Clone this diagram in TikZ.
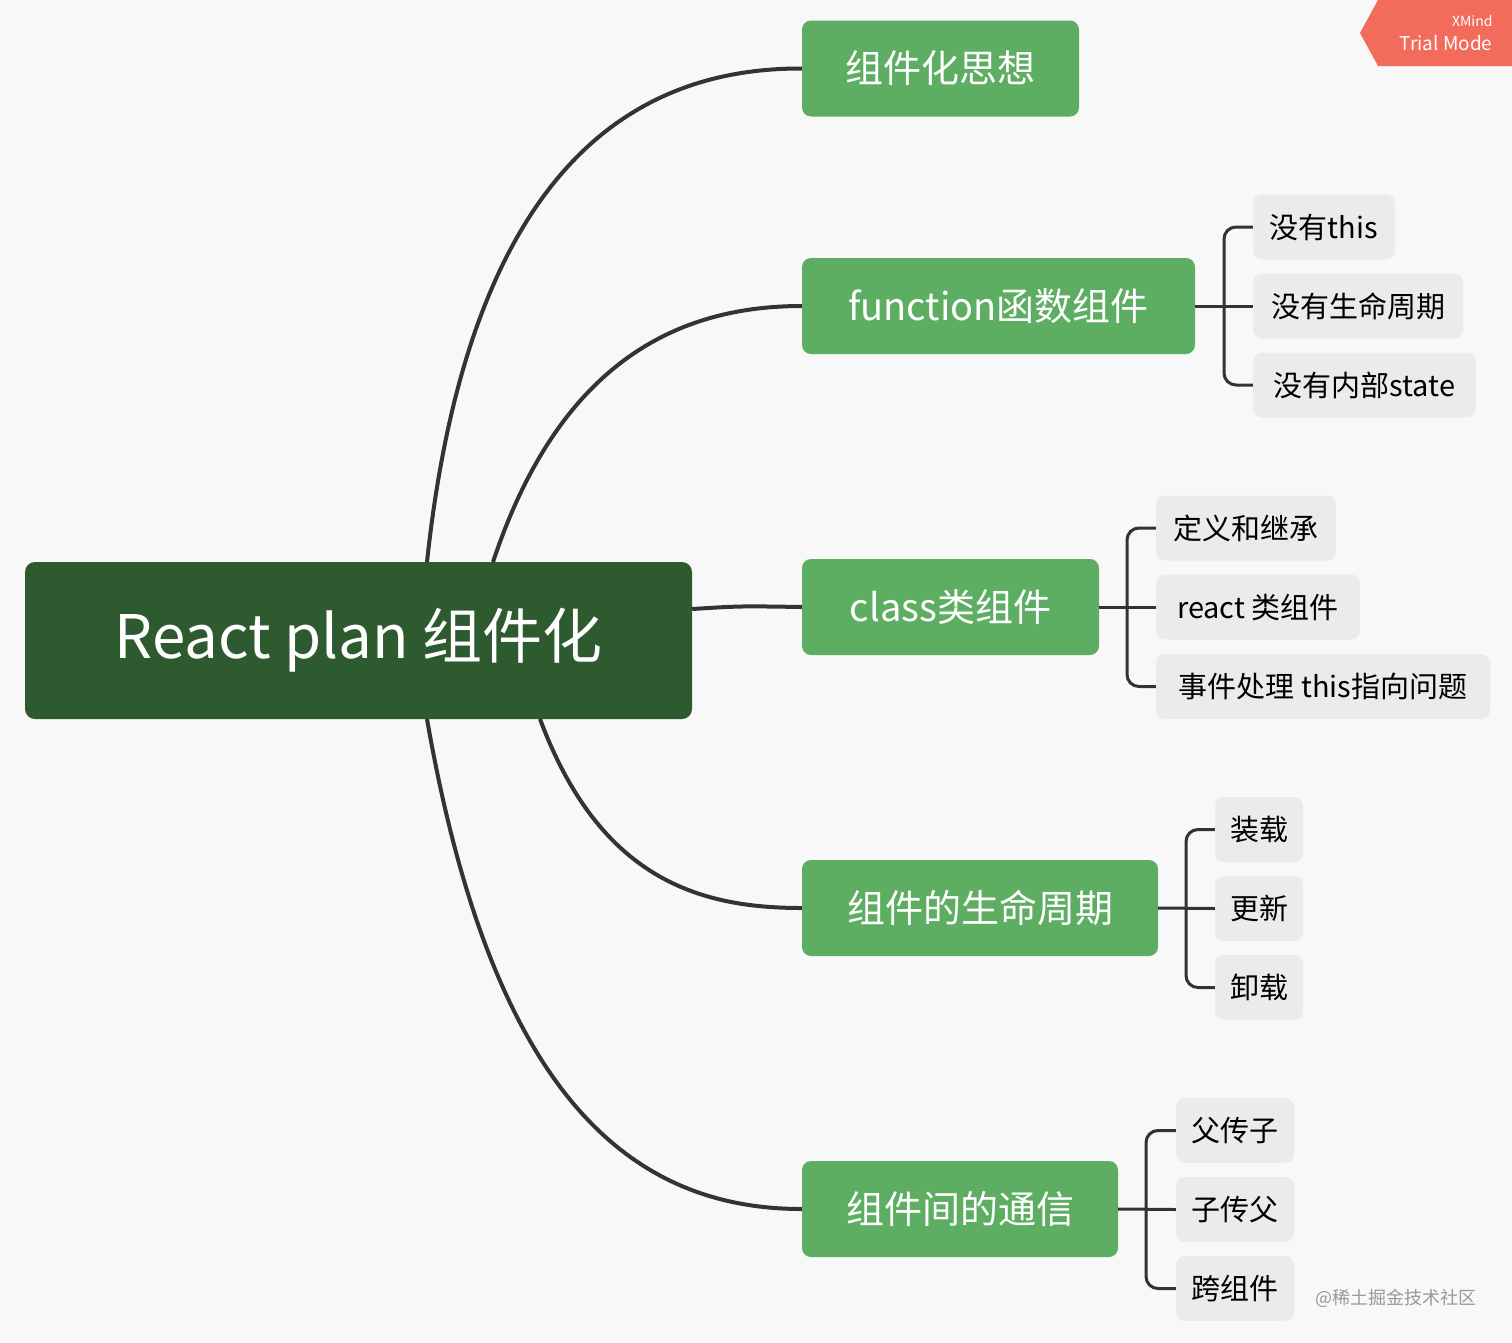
\documentclass[tikz,border=0pt]{standalone}
\usepackage{fontspec}
\setmainfont{Noto Sans CJK SC}
\begin{document}
\begin{tikzpicture}[x=1pt,y=-1pt,
 mainbox/.style={fill=mgreen,rounded corners=9pt,text=white,font=\fontsize{38}{40}\selectfont,inner sep=0pt,minimum height=96pt},
 leafbox/.style={fill=lgray,rounded corners=9pt,text=black,font=\fontsize{29}{31}\selectfont,inner sep=0pt,minimum height=65pt},
 conn/.style={draw=dline,line width=4pt},
 brk/.style={draw=dline,line width=3pt,rounded corners=12pt}]
\definecolor{bg}{HTML}{F8F8F8}
\definecolor{dgreen}{HTML}{2D5A2F}
\definecolor{mgreen}{HTML}{5DAE62}
\definecolor{lgray}{HTML}{EBEBEB}
\definecolor{dline}{HTML}{333333}
\definecolor{xred}{HTML}{F26B5B}
\fill[bg] (0,0) rectangle (1512,1342);
\useasboundingbox (0,0) rectangle (1512,1342);
% connectors first
\node[fill=dgreen,rounded corners=10pt,text=white,font=\fontsize{60}{62}\selectfont,minimum width=667pt,minimum height=157pt,inner sep=0pt] (root) at (358.5,640.5) {React plan 组件化};
\node[mainbox,minimum width=277pt] (n1) at (940.5,68.5) {组件化思想};
\node[mainbox,minimum width=393pt] (n2) at (998.5,306) {function函数组件};
\node[mainbox,minimum width=297pt] (n3) at (950.5,607) {class类组件};
\node[mainbox,minimum width=356pt] (n4) at (980,908) {组件的生命周期};
\node[mainbox,minimum width=316pt] (n5) at (960,1209) {组件间的通信};
\begin{scope}[on background layer/.style={}]
\end{scope}
\draw[conn] (427,562) .. controls (470,160) and (640,68) .. (n1.west);
\draw[conn] (493,562) .. controls (560,360) and (680,306) .. (n2.west);
\draw[conn] (root.east|-0,609) .. controls (740,606) .. (n3.west);
\draw[conn] (540,719) .. controls (600,880) and (700,908) .. (n4.west);
\draw[conn] (427,719) .. controls (490,1080) and (620,1209) .. (n5.west);
% leaves
\tikzset{lt/.style={leafbox,text width=#1,align=left,minimum width=#1}}
\node[leafbox,minimum width=142pt] (l21) at (1324,227) {没有this};
\node[leafbox,minimum width=210pt] (l22) at (1358,306) {没有生命周期};
\node[leafbox,minimum width=223pt] (l23) at (1364.5,385) {没有内部state};
\node[leafbox,minimum width=180pt] (l31) at (1246,528) {定义和继承};
\node[leafbox,minimum width=204pt] (l32) at (1258,607) {react 类组件};
\node[leafbox,minimum width=334pt] (l33) at (1323,686.5) {事件处理 this指向问题};
\node[leafbox,minimum width=88pt] (l41) at (1259,829.5) {装载};
\node[leafbox,minimum width=88pt] (l42) at (1259,908.5) {更新};
\node[leafbox,minimum width=88pt] (l43) at (1259,987.5) {卸载};
\node[leafbox,minimum width=118pt] (l51) at (1235,1130.5) {父传子};
\node[leafbox,minimum width=118pt] (l52) at (1235,1209.5) {子传父};
\node[leafbox,minimum width=118pt] (l53) at (1235,1288.5) {跨组件};
\coordinate (b2) at (1224,306);
\coordinate (b3) at (1127,607);
\coordinate (b4) at (1186,908);
\coordinate (b5) at (1146,1209);
\draw[brk] (l21.west) -| (b2) |- (l23.west);
\draw[conn,line width=3pt] (n2.east) -- (l22.west);
\draw[brk] (l31.west) -| (b3) |- (l33.west);
\draw[conn,line width=3pt] (n3.east) -- (l32.west);
\draw[brk] (l41.west) -| (b4) |- (l43.west);
\draw[conn,line width=3pt] (n4.east) -- (l42.west);
\draw[brk] (l51.west) -| (b5) |- (l53.west);
\draw[conn,line width=3pt] (n5.east) -- (l52.west);
% watermark
\fill[xred] (1512,0) -- (1378,0) -- (1360,33) -- (1378,66) -- (1512,66) -- cycle;
\node[text=white,font=\fontsize{14}{15}\selectfont,anchor=east] (xm) at (1496,21) {XMind};
\node[text=white,font=\fontsize{19}{20}\selectfont,anchor=east] (tm) at (1496,43) {Trial Mode};
\node[text=gray!80,font=\fontsize{18}{19}\selectfont,anchor=east] (wm) at (1480,1298) {@稀土掘金技术社区};
\end{tikzpicture}
\end{document}
